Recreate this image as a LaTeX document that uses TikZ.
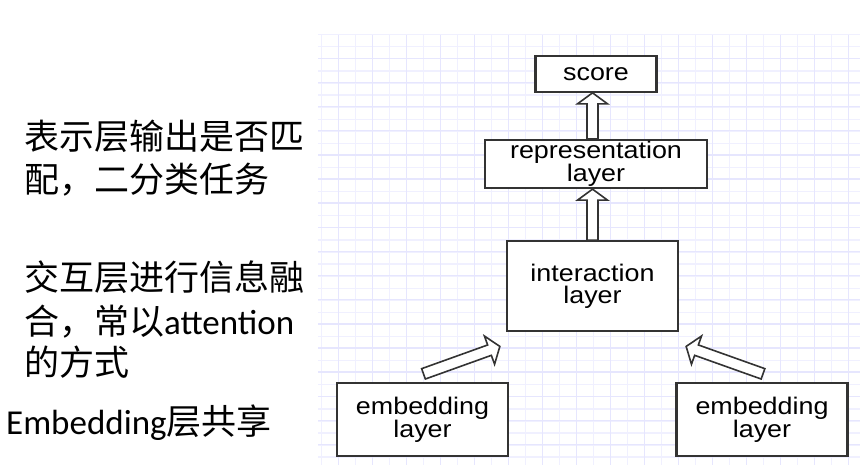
\documentclass[tikz,border=0pt]{standalone}
\usepackage{fontspec}
\setmainfont{Carlito}
\newfontfamily\cjk{Noto Sans CJK SC}
\newfontfamily\boxfont[FakeStretch=1.12]{Liberation Sans}
\usetikzlibrary{positioning, calc}

\definecolor{gridminor}{RGB}{240,240,255}
\definecolor{gridmajor}{RGB}{230,230,254}

% hollow block arrow from #1 to #2
\newcommand{\hollowarrow}[2]{%
  \coordinate (ha-n) at ($(#2)!11pt!(#1)$);
  \draw[hollow] ($(#1)!5.5pt!-90:(#2)$) -- ($(ha-n)!5.5pt!-90:(#2)$) -- ($(ha-n)!15pt!-90:(#2)$)
    -- (#2) -- ($(ha-n)!15pt!90:(#2)$) -- ($(ha-n)!5.5pt!90:(#2)$) -- ($(#1)!5.5pt!90:(#2)$) -- cycle;
}

\begin{document}
\begin{tikzpicture}[
        x=1pt, y=1pt,
        box/.style={rectangle, draw=black!80, line width=2.3pt, fill=white, align=center, inner sep=0pt,
            font=\boxfont\fontsize{24}{22}\selectfont},
        hollow/.style={draw=black!80, line width=1.6pt, fill=white, line join=miter},
        note/.style={anchor=base west, inner sep=0pt, font=\fontsize{35}{42}\selectfont},
        minorgrid/.style={draw=gridminor, line width=1.3pt},
        majorgrid/.style={draw=gridmajor, line width=1.5pt}
    ]
    \useasboundingbox (0,0) rectangle (860,470);

    % grid paper
    \begin{scope}[shift={(321.7,435.3)}]
        \draw[minorgrid, xstep=17pt, ystep=12.07pt] (-3.7,-430.3) grid (538.3,0);
    \end{scope}
    \begin{scope}[shift={(338.7,411.7)}]
        \draw[majorgrid, xstep=34pt, ystep=24.14pt] (-20.7,-406.7) grid (521.3,23.6);
    \end{scope}

    \node (rep) [box, minimum width=222pt, minimum height=48pt] at (596,306) {representation\\layer};
    \node (score) [box, minimum width=121pt, minimum height=36pt, above=46pt of rep] {score};
    \node (inter) [box, minimum width=171pt, minimum height=90pt, below=51pt of rep, xshift=-3.5pt] {interaction\\layer};
    \node (embL) [box, minimum width=171pt, minimum height=73pt] at (422.5,50.5) {embedding\\layer};
    \node (embR) [box, minimum width=171pt, minimum height=73pt] at (762,50.5) {embedding\\layer};

    \coordinate (up1a) at (inter.north |- rep.north);
    \coordinate (up1b) at (inter.north |- score.south);
    \coordinate (up2b) at (inter.north |- rep.south);
    \coordinate (tipL) at ($(inter.south west)+(-6,-14)$);
    \coordinate (tailL) at ($(embL.north)+(1,8)$);
    \coordinate (tipR) at ($(inter.south east)+(7,-14)$);
    \coordinate (tailR) at ($(embR.north)+(1,8)$);

    \hollowarrow{up1a}{up1b}
    \hollowarrow{inter.north}{up2b}
    \hollowarrow{tailL}{tipL}
    \hollowarrow{tailR}{tipR}

    \node (t1) [note] at (24,320) {\cjk 表示层输出是否匹};
    \node (t2) [note] at (24,277) {\cjk 配，二分类任务};
    \node (t3) [note] at (24,179) {\cjk 交互层进行信息融};
    \node (t4) [note] at (24,135) {{\cjk 合，常以}attention};
    \node (t5) [note] at (24,94) {\cjk 的方式};
    \node (t6) [note] at (6,35) {Embedding{\cjk 层共享}};

\end{tikzpicture}
\end{document}
